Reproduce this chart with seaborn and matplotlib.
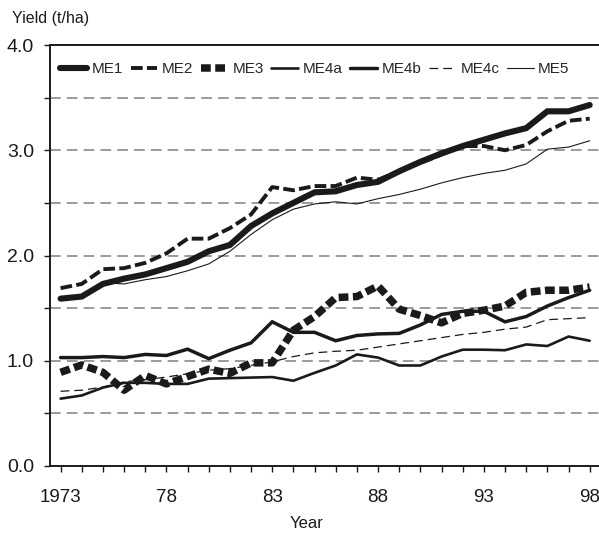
import matplotlib
matplotlib.use("Agg")
import matplotlib.pyplot as plt
from matplotlib.ticker import FixedLocator, MultipleLocator
import numpy as np
import pandas as pd
import seaborn as sns

# Yield series by mega-environment, 1973-1998
years = list(range(1973, 1999))
me1 = [1.59, 1.61, 1.73, 1.78, 1.82, 1.88, 1.94, 2.04, 2.10, 2.28, 2.40, 2.50, 2.60,
       2.61, 2.67, 2.70, 2.80, 2.89, 2.97, 3.04, 3.10, 3.16, 3.21, 3.37, 3.37, 3.43]
me2 = [1.69, 1.73, 1.87, 1.88, 1.93, 2.02, 2.16, 2.16, 2.26, 2.39, 2.65, 2.62, 2.66,
       2.66, 2.74, 2.72, 2.80, 2.88, 2.96, 3.04, 3.04, 3.00, 3.05, 3.18, 3.28, 3.30]
me3 = [0.89, 0.96, 0.89, 0.72, 0.86, 0.78, 0.85, 0.92, 0.88, 0.98, 0.98, 1.29, 1.42,
       1.60, 1.61, 1.71, 1.49, 1.43, 1.36, 1.45, 1.48, 1.52, 1.65, 1.67, 1.67, 1.70]
me4a = [0.64, 0.67, 0.745, 0.79, 0.79, 0.78, 0.78, 0.83, 0.835, 0.84, 0.845, 0.81, 0.885,
        0.955, 1.06, 1.03, 0.955, 0.955, 1.04, 1.105, 1.105, 1.10, 1.155, 1.14, 1.23, 1.19]
me4b = [1.03, 1.03, 1.04, 1.03, 1.06, 1.05, 1.11, 1.02, 1.10, 1.17, 1.37, 1.27, 1.27,
        1.19, 1.24, 1.255, 1.26, 1.34, 1.44, 1.47, 1.47, 1.37, 1.42, 1.52, 1.60, 1.67]
me4c = [0.71, 0.72, 0.75, 0.80, 0.82, 0.845, 0.877, 0.91, 0.925, 0.956, 0.99, 1.04, 1.075,
        1.09, 1.10, 1.13, 1.16, 1.19, 1.22, 1.25, 1.27, 1.30, 1.32, 1.39, 1.40, 1.41]
me5 = [1.60, 1.62, 1.74, 1.73, 1.77, 1.80, 1.855, 1.92, 2.04, 2.20, 2.34, 2.44, 2.49,
       2.51, 2.49, 2.54, 2.58, 2.63, 2.69, 2.74, 2.78, 2.81, 2.87, 3.01, 3.03, 3.09]

series_names = ["ME1", "ME2", "ME3", "ME4a", "ME4b", "ME4c", "ME5"]
series_values = [me1, me2, me3, me4a, me4b, me4c, me5]
tick_years = [1973, 1978, 1983, 1988, 1993, 1998]
tick_labels = ["1973", "78", "83", "88", "93", "98"]

styles = {
    "ME1": dict(linewidth=4.4, linestyle="-"),
    "ME2": dict(linewidth=2.8, linestyle=(0, (3.0, 1.1))),
    "ME3": dict(linewidth=5.4, linestyle=(0, (1.3, 0.6))),
    "ME4a": dict(linewidth=1.9, linestyle="-"),
    "ME4b": dict(linewidth=2.5, linestyle="-"),
    "ME4c": dict(linewidth=0.9, linestyle=(0, (7, 4))),
    "ME5": dict(linewidth=0.8, linestyle="-"),
}

sns.set_style("ticks")
plt.rcParams["font.family"] = ["Liberation Sans", "DejaVu Sans"]

fig = plt.figure(figsize=(5.99, 5.37), dpi=100)
ax = fig.add_axes([50 / 599, 71 / 537, 549 / 599, 421 / 537])

ink = "#1a1a1a"
for name, vals in zip(series_names, series_values):
    df = pd.DataFrame({"Year": years, "Yield": vals})
    sns.lineplot(data=df, x="Year", y="Yield", ax=ax, color=ink, label=name,
                 solid_joinstyle="miter", dash_capstyle="butt", **styles[name])

ax.set_xlim(1972.5, 1998.44)
ax.set_ylim(0, 4.0)

# dashed reference lines every 0.5
for yv in np.arange(0.5, 4.0, 0.5):
    ax.axhline(yv, color="#808080", linewidth=1.1, linestyle=(0, (7, 4)), zorder=0)

ax.xaxis.set_major_locator(FixedLocator(tick_years))
ax.set_xticklabels(tick_labels)
ax.xaxis.set_minor_locator(MultipleLocator(1))
ax.yaxis.set_major_locator(FixedLocator([0, 1, 2, 3, 4]))
ax.set_yticklabels(["0.0", "1.0", "2.0", "3.0", "4.0"])
ax.yaxis.set_minor_locator(MultipleLocator(0.5))
ax.tick_params(axis="both", which="both", direction="out", length=4.5, width=1.0,
               color=ink, labelsize=14, labelcolor=ink)
ax.tick_params(axis="x", which="major", pad=12, labelsize=13.5)
ax.tick_params(axis="y", which="major", pad=7)

for side in ["left", "bottom", "top"]:
    ax.spines[side].set_linewidth(1.4)
    ax.spines[side].set_color(ink)
ax.spines["right"].set_visible(False)

ax.set_xlabel("")
ax.set_ylabel("")
fig.text(12 / 599, 1 - 18 / 537, "Yield (t/ha)", fontsize=11.5, ha="left", va="center", color=ink)
fig.text(307 / 599, 1 - 523 / 537, "Year", fontsize=12, ha="center", va="center", color=ink)

leg = ax.legend(loc="center", bbox_to_anchor=((315 - 50) / 549, (466 - 69) / 421), ncol=7,
                frameon=False, fontsize=11, handlelength=1.75, handletextpad=0.3,
                columnspacing=0.5, borderaxespad=0)

fig.savefig("out.png", dpi=100)
